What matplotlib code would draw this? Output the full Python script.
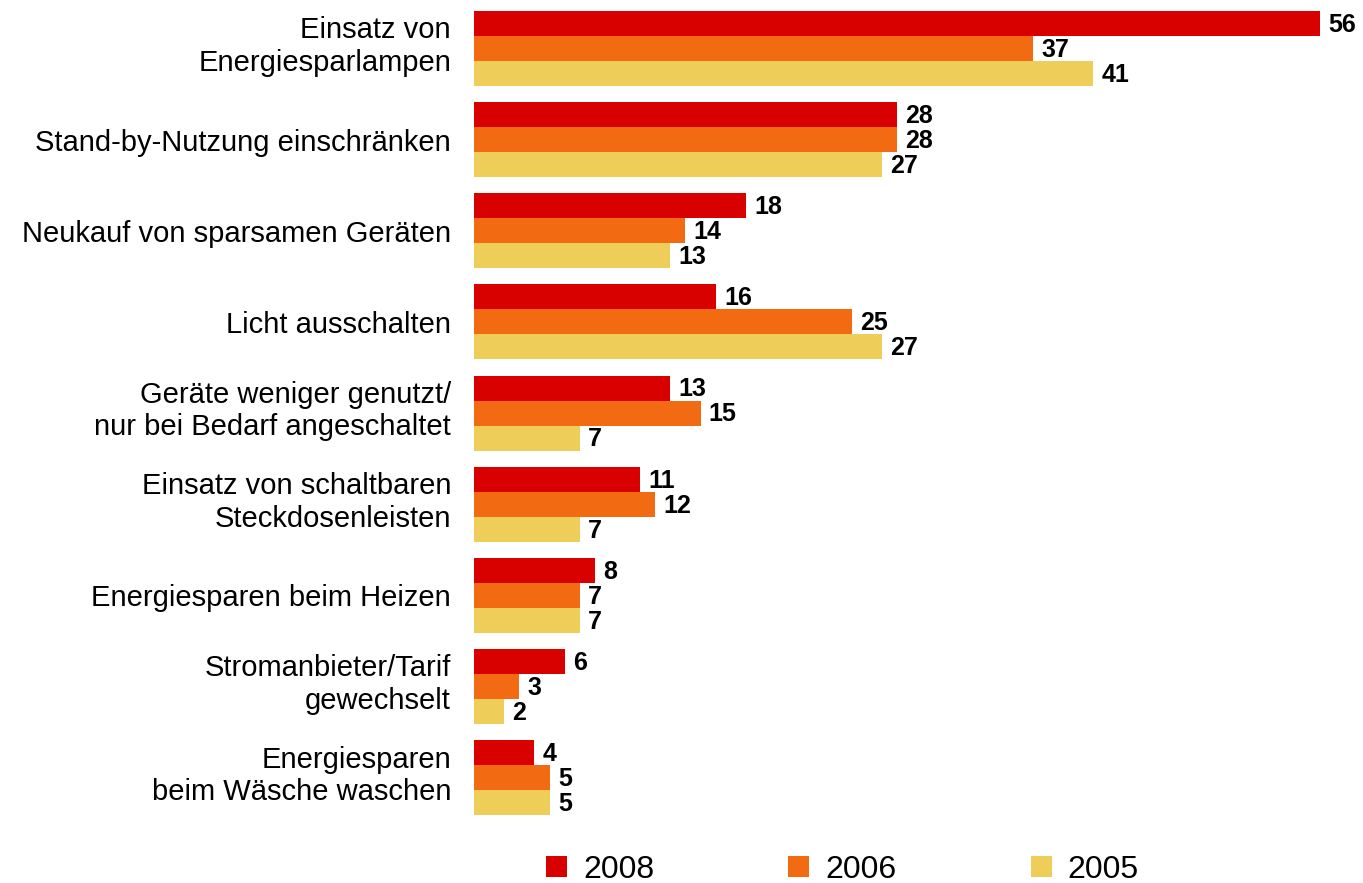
import matplotlib.pyplot as plt
import matplotlib.transforms as mtransforms
import numpy as np

plt.rcParams['font.family'] = ['Liberation Sans', 'DejaVu Sans']

categories = ['Einsatz von\nEnergiesparlampen',
              'Stand-by-Nutzung einschränken',
              'Neukauf von sparsamen Geräten',
              'Licht ausschalten',
              'Geräte weniger genutzt/\nnur bei Bedarf angeschaltet',
              'Einsatz von schaltbaren\nSteckdosenleisten',
              'Energiesparen beim Heizen',
              'Stromanbieter/Tarif\ngewechselt',
              'Energiesparen\nbeim Wäsche waschen']
v2008 = [56, 28, 18, 16, 13, 11, 8, 6, 4]
v2006 = [37, 28, 14, 25, 15, 12, 7, 3, 5]
v2005 = [41, 27, 13, 27, 7, 7, 7, 2, 5]
years = ['2008', '2006', '2005']
colors = ['#D90000', '#F26B13', '#EECD58']

W, H = 1363, 883
fig = plt.figure(figsize=(W / 100, H / 100), dpi=100)
# axes placed in pixel terms: x from 474, 15.1 px per unit
ax_left, ax_right = 474, 1363
ax_top, ax_bot = 0, 825
ax = fig.add_axes([ax_left / W, (H - ax_bot) / H, (ax_right - ax_left) / W, (ax_bot - ax_top) / H])

px_unit = 15.1
group = 91.125
bar_h = 25 / group
y = np.arange(len(categories))

for k, (vals, c, yr) in enumerate(zip([v2008, v2006, v2005], colors, years)):
    yy = y + (k - 1) * bar_h
    ax.barh(yy, vals, height=bar_h, color=c, label=yr, linewidth=0)
    for yi, v in zip(yy, vals):
        ax.annotate(str(v), (v, yi), xytext=(6, -1), textcoords='offset points',
                    ha='left', va='center', fontsize=18, fontweight='bold')

ax.set_xlim(0, (ax_right - ax_left) / px_unit)
ax.set_ylim((ax_bot - 48.5) / group, -48.5 / group)
ax.set_yticks(y)
ax.set_yticklabels(categories, fontsize=21, linespacing=1.2)
ax.tick_params(axis='y', length=0, pad=16.5)
ax.set_xticks([])
for s in ax.spines.values():
    s.set_visible(False)

# two-line labels sit a bit higher in the original
shift = mtransforms.ScaledTranslation(0, 7 / 100, fig.dpi_scale_trans)
for lbl in ax.get_yticklabels():
    if '\n' in lbl.get_text():
        lbl.set_transform(lbl.get_transform() + shift)

fig.legend(loc='lower center', bbox_to_anchor=(0.618, -0.002), ncol=3, frameon=False,
           fontsize=23, handlelength=0.66, handleheight=0.66, handletextpad=0.5,
           columnspacing=4.2, borderpad=0, borderaxespad=0)

fig.savefig('out.png', dpi=100)
